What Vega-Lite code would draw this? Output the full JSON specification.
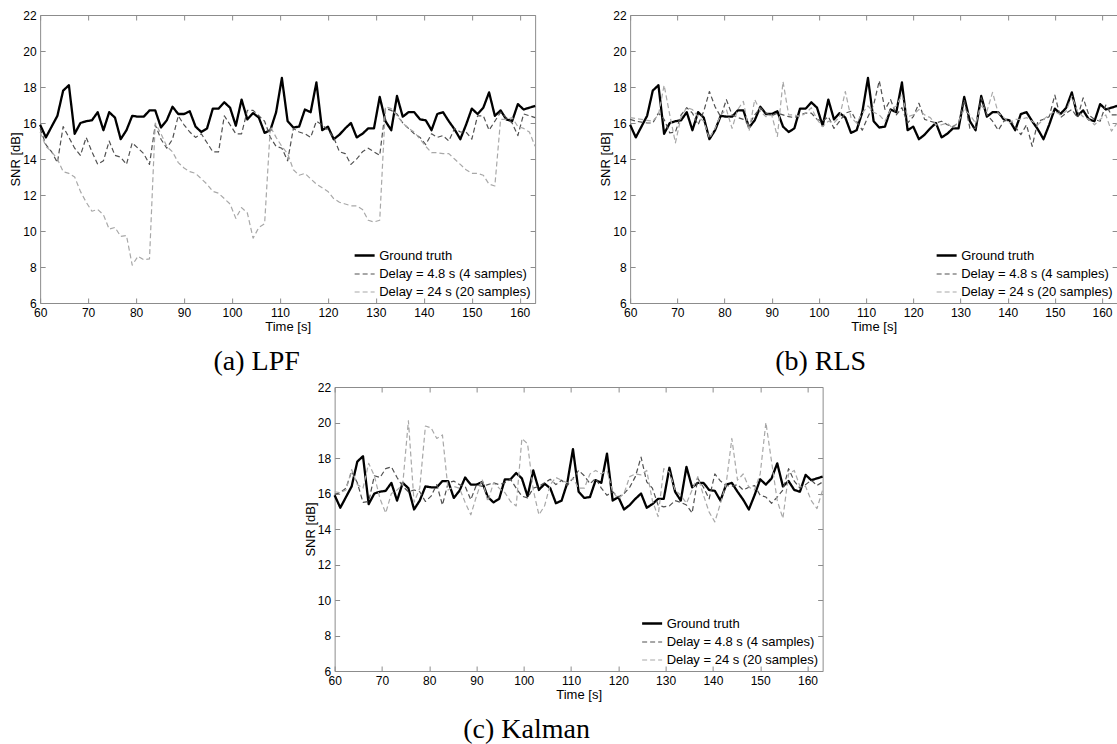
{
"$schema": "https://vega.github.io/schema/vega-lite/v6.json",
"background": "white",
"padding": {"left": 9, "top": 9, "right": 0, "bottom": 0},
"config": {
  "view": {"stroke": null},
  "axis": {"labelFont": "Liberation Sans", "labelFontSize": 12, "labelColor": "#000", "titleFont": "Liberation Sans", "titleFontSize": 13, "titleFontWeight": "normal", "titleColor": "#000", "domainColor": "#8c8c8c", "tickColor": "#8c8c8c", "tickSize": -5, "labelPadding": 9, "grid": false, "labelFlush": false, "labelOverlap": false},
  "axisX": {"titlePadding": 2},
  "axisY": {"titlePadding": 0},
  "legend": {"title": null, "orient": "bottom-right", "offset": 4, "padding": 0, "symbolSize": 400, "labelFont": "Liberation Sans", "labelFontSize": 13, "labelColor": "#000", "rowPadding": -3, "labelOffset": 3, "symbolType": "stroke"},
  "title": {"font": "Liberation Serif", "fontSize": 28, "fontWeight": "normal", "color": "#000", "orient": "bottom", "anchor": "middle", "frame": "group", "offset": 15},
  "line": {"strokeCap": "butt", "strokeJoin": "round"}
},
"data": {"values": [
{"s":"gt","t":60,"v":15.9},{"s":"gt","t":61.2,"v":15.2},{"s":"gt","t":62.4,"v":15.8},{"s":"gt","t":63.6,"v":16.4},{"s":"gt","t":64.8,"v":17.8},{"s":"gt","t":66,"v":18.1},{"s":"gt","t":67.2,"v":15.4},{"s":"gt","t":68.4,"v":16},{"s":"gt","t":69.6,"v":16.1},{"s":"gt","t":70.8,"v":16.15},
{"s":"gt","t":72,"v":16.6},{"s":"gt","t":73.2,"v":15.6},{"s":"gt","t":74.4,"v":16.6},{"s":"gt","t":75.6,"v":16.3},{"s":"gt","t":76.8,"v":15.1},{"s":"gt","t":78,"v":15.6},{"s":"gt","t":79.2,"v":16.4},{"s":"gt","t":80.4,"v":16.35},{"s":"gt","t":81.6,"v":16.35},{"s":"gt","t":82.8,"v":16.7},
{"s":"gt","t":84,"v":16.7},{"s":"gt","t":85.2,"v":15.75},{"s":"gt","t":86.4,"v":16.15},{"s":"gt","t":87.6,"v":16.9},{"s":"gt","t":88.8,"v":16.5},{"s":"gt","t":90,"v":16.5},{"s":"gt","t":91.2,"v":16.65},{"s":"gt","t":92.4,"v":15.8},{"s":"gt","t":93.6,"v":15.5},{"s":"gt","t":94.8,"v":15.7},
{"s":"gt","t":96,"v":16.8},{"s":"gt","t":97.2,"v":16.8},{"s":"gt","t":98.4,"v":17.15},{"s":"gt","t":99.6,"v":16.85},{"s":"gt","t":100.8,"v":15.85},{"s":"gt","t":102,"v":17.3},{"s":"gt","t":103.2,"v":16.2},{"s":"gt","t":104.4,"v":16.55},{"s":"gt","t":105.6,"v":16.3},{"s":"gt","t":106.8,"v":15.45},
{"s":"gt","t":108,"v":15.6},{"s":"gt","t":109.2,"v":16.6},{"s":"gt","t":110.4,"v":18.5},{"s":"gt","t":111.6,"v":16.1},{"s":"gt","t":112.8,"v":15.75},{"s":"gt","t":114,"v":15.8},{"s":"gt","t":115.2,"v":16.75},{"s":"gt","t":116.4,"v":16.6},{"s":"gt","t":117.6,"v":18.25},{"s":"gt","t":118.8,"v":15.6},
{"s":"gt","t":120,"v":15.8},{"s":"gt","t":121.2,"v":15.1},{"s":"gt","t":122.4,"v":15.35},{"s":"gt","t":123.6,"v":15.7},{"s":"gt","t":124.8,"v":16},{"s":"gt","t":126,"v":15.2},{"s":"gt","t":127.2,"v":15.4},{"s":"gt","t":128.4,"v":15.7},{"s":"gt","t":129.6,"v":15.7},{"s":"gt","t":130.8,"v":17.45},
{"s":"gt","t":132,"v":16.1},{"s":"gt","t":133.2,"v":15.6},{"s":"gt","t":134.4,"v":17.5},{"s":"gt","t":135.6,"v":16.35},{"s":"gt","t":136.8,"v":16.6},{"s":"gt","t":138,"v":16.6},{"s":"gt","t":139.2,"v":16.2},{"s":"gt","t":140.4,"v":16.15},{"s":"gt","t":141.6,"v":15.6},{"s":"gt","t":142.8,"v":16.5},
{"s":"gt","t":144,"v":16.6},{"s":"gt","t":145.2,"v":16.1},{"s":"gt","t":146.4,"v":15.65},{"s":"gt","t":147.6,"v":15.1},{"s":"gt","t":148.8,"v":15.9},{"s":"gt","t":150,"v":16.8},{"s":"gt","t":151.2,"v":16.5},{"s":"gt","t":152.4,"v":16.85},{"s":"gt","t":153.6,"v":17.7},{"s":"gt","t":154.8,"v":16.4},
{"s":"gt","t":156,"v":16.7},{"s":"gt","t":157.2,"v":16.2},{"s":"gt","t":158.4,"v":16.1},{"s":"gt","t":159.6,"v":17.05},{"s":"gt","t":160.8,"v":16.75},{"s":"gt","t":162,"v":16.85},{"s":"gt","t":163.2,"v":16.95},

{"s":"a4","t":60,"v":15.7},{"s":"a4","t":61.2,"v":14.8},{"s":"a4","t":62.4,"v":14.4},{"s":"a4","t":63.6,"v":13.8},{"s":"a4","t":64.8,"v":15.8},{"s":"a4","t":66,"v":15.2},{"s":"a4","t":67.2,"v":14.6},{"s":"a4","t":68.4,"v":14.2},{"s":"a4","t":69.6,"v":15.2},{"s":"a4","t":70.8,"v":14.4},
{"s":"a4","t":72,"v":13.7},{"s":"a4","t":73.2,"v":13.9},{"s":"a4","t":74.4,"v":15},{"s":"a4","t":75.6,"v":14.2},{"s":"a4","t":76.8,"v":14.1},{"s":"a4","t":78,"v":13.7},{"s":"a4","t":79.2,"v":14.9},{"s":"a4","t":80.4,"v":14.6},{"s":"a4","t":81.6,"v":14.3},{"s":"a4","t":82.8,"v":13.7},
{"s":"a4","t":84,"v":15.9},{"s":"a4","t":85.2,"v":15.1},{"s":"a4","t":86.4,"v":14.6},{"s":"a4","t":87.6,"v":15.1},{"s":"a4","t":88.8,"v":16.4},{"s":"a4","t":90,"v":15.9},{"s":"a4","t":91.2,"v":15.5},{"s":"a4","t":92.4,"v":15.2},{"s":"a4","t":93.6,"v":15.4},{"s":"a4","t":94.8,"v":14.9},
{"s":"a4","t":96,"v":14.4},{"s":"a4","t":97.2,"v":14.4},{"s":"a4","t":98.4,"v":16.4},{"s":"a4","t":99.6,"v":15.9},{"s":"a4","t":100.8,"v":15.4},{"s":"a4","t":102,"v":15.4},{"s":"a4","t":103.2,"v":16.7},{"s":"a4","t":104.4,"v":16.7},{"s":"a4","t":105.6,"v":16.4},{"s":"a4","t":106.8,"v":16.1},
{"s":"a4","t":108,"v":15.2},{"s":"a4","t":109.2,"v":14.7},{"s":"a4","t":110.4,"v":14.6},{"s":"a4","t":111.6,"v":13.9},{"s":"a4","t":112.8,"v":15.7},{"s":"a4","t":114,"v":15.5},{"s":"a4","t":115.2,"v":15.4},{"s":"a4","t":116.4,"v":15.2},{"s":"a4","t":117.6,"v":16.1},{"s":"a4","t":118.8,"v":15.9},
{"s":"a4","t":120,"v":15.6},{"s":"a4","t":121.2,"v":15.2},{"s":"a4","t":122.4,"v":14.4},{"s":"a4","t":123.6,"v":14.3},{"s":"a4","t":124.8,"v":13.7},{"s":"a4","t":126,"v":14},{"s":"a4","t":127.2,"v":14.4},{"s":"a4","t":128.4,"v":14.6},{"s":"a4","t":129.6,"v":14.4},{"s":"a4","t":130.8,"v":14.2},
{"s":"a4","t":132,"v":16.8},{"s":"a4","t":133.2,"v":16.7},{"s":"a4","t":134.4,"v":16.5},{"s":"a4","t":135.6,"v":16},{"s":"a4","t":136.8,"v":15.7},{"s":"a4","t":138,"v":15.4},{"s":"a4","t":139.2,"v":15.2},{"s":"a4","t":140.4,"v":14.8},{"s":"a4","t":141.6,"v":15.4},{"s":"a4","t":142.8,"v":15.2},
{"s":"a4","t":144,"v":15.3},{"s":"a4","t":145.2,"v":15},{"s":"a4","t":146.4,"v":15.7},{"s":"a4","t":147.6,"v":15.5},{"s":"a4","t":148.8,"v":15.5},{"s":"a4","t":150,"v":15.1},{"s":"a4","t":151.2,"v":16.4},{"s":"a4","t":152.4,"v":16.4},{"s":"a4","t":153.6,"v":15.6},{"s":"a4","t":154.8,"v":16.1},
{"s":"a4","t":156,"v":16.6},{"s":"a4","t":157.2,"v":16.3},{"s":"a4","t":158.4,"v":16},{"s":"a4","t":159.6,"v":15.3},{"s":"a4","t":160.8,"v":16.5},{"s":"a4","t":162,"v":16.4},{"s":"a4","t":163.2,"v":16.3},

{"s":"a24","t":60,"v":15.5},{"s":"a24","t":61.2,"v":14.7},{"s":"a24","t":62.4,"v":14.4},{"s":"a24","t":63.6,"v":14},{"s":"a24","t":64.8,"v":13.3},{"s":"a24","t":66,"v":13.2},{"s":"a24","t":67.2,"v":13},{"s":"a24","t":68.4,"v":12.2},{"s":"a24","t":69.6,"v":11.6},{"s":"a24","t":70.8,"v":11.1},
{"s":"a24","t":72,"v":11.2},{"s":"a24","t":73.2,"v":10.9},{"s":"a24","t":74.4,"v":10.1},{"s":"a24","t":75.6,"v":10.2},{"s":"a24","t":76.8,"v":9.7},{"s":"a24","t":78,"v":9.75},{"s":"a24","t":79.2,"v":8.1},{"s":"a24","t":80.4,"v":8.6},{"s":"a24","t":81.6,"v":8.4},{"s":"a24","t":82.8,"v":8.45},
{"s":"a24","t":84,"v":16},{"s":"a24","t":85.2,"v":15.4},{"s":"a24","t":86.4,"v":14.7},{"s":"a24","t":87.6,"v":14.4},{"s":"a24","t":88.8,"v":13.8},{"s":"a24","t":90,"v":13.5},{"s":"a24","t":91.2,"v":13.3},{"s":"a24","t":92.4,"v":13.2},{"s":"a24","t":93.6,"v":12.9},{"s":"a24","t":94.8,"v":12.6},
{"s":"a24","t":96,"v":12.2},{"s":"a24","t":97.2,"v":12.1},{"s":"a24","t":98.4,"v":11.8},{"s":"a24","t":99.6,"v":11.5},{"s":"a24","t":100.8,"v":10.7},{"s":"a24","t":102,"v":11.3},{"s":"a24","t":103.2,"v":11},{"s":"a24","t":104.4,"v":9.6},{"s":"a24","t":105.6,"v":10.2},{"s":"a24","t":106.8,"v":10.4},
{"s":"a24","t":108,"v":15.8},{"s":"a24","t":109.2,"v":15.2},{"s":"a24","t":110.4,"v":14.7},{"s":"a24","t":111.6,"v":14.3},{"s":"a24","t":112.8,"v":13.4},{"s":"a24","t":114,"v":13.1},{"s":"a24","t":115.2,"v":13.2},{"s":"a24","t":116.4,"v":12.9},{"s":"a24","t":117.6,"v":12.6},{"s":"a24","t":118.8,"v":12.4},
{"s":"a24","t":120,"v":12.2},{"s":"a24","t":121.2,"v":11.8},{"s":"a24","t":122.4,"v":11.6},{"s":"a24","t":123.6,"v":11.5},{"s":"a24","t":124.8,"v":11.4},{"s":"a24","t":126,"v":11.4},{"s":"a24","t":127.2,"v":11.2},{"s":"a24","t":128.4,"v":10.6},{"s":"a24","t":129.6,"v":10.5},{"s":"a24","t":130.8,"v":10.6},
{"s":"a24","t":132,"v":16.9},{"s":"a24","t":133.2,"v":16.8},{"s":"a24","t":134.4,"v":16.4},{"s":"a24","t":135.6,"v":16},{"s":"a24","t":136.8,"v":15.7},{"s":"a24","t":138,"v":15.5},{"s":"a24","t":139.2,"v":15.1},{"s":"a24","t":140.4,"v":14.7},{"s":"a24","t":141.6,"v":14.35},{"s":"a24","t":142.8,"v":14.35},
{"s":"a24","t":144,"v":14.3},{"s":"a24","t":145.2,"v":14.3},{"s":"a24","t":146.4,"v":14},{"s":"a24","t":147.6,"v":13.7},{"s":"a24","t":148.8,"v":13.4},{"s":"a24","t":150,"v":13.2},{"s":"a24","t":151.2,"v":13.2},{"s":"a24","t":152.4,"v":13.1},{"s":"a24","t":153.6,"v":12.6},{"s":"a24","t":154.8,"v":12.5},
{"s":"a24","t":156,"v":16.2},{"s":"a24","t":157.2,"v":16.2},{"s":"a24","t":158.4,"v":16.3},{"s":"a24","t":159.6,"v":15.8},{"s":"a24","t":160.8,"v":15.7},{"s":"a24","t":162,"v":15.5},{"s":"a24","t":163.2,"v":14.7},

{"s":"b4","t":60,"v":16.2},{"s":"b4","t":61.2,"v":16.1},{"s":"b4","t":62.4,"v":16.05},{"s":"b4","t":63.6,"v":16},{"s":"b4","t":64.8,"v":16},{"s":"b4","t":66,"v":16.55},{"s":"b4","t":67.2,"v":16.2},{"s":"b4","t":68.4,"v":15.45},{"s":"b4","t":69.6,"v":15.5},{"s":"b4","t":70.8,"v":16.45},
{"s":"b4","t":72,"v":16.85},{"s":"b4","t":73.2,"v":16.55},{"s":"b4","t":74.4,"v":15.9},{"s":"b4","t":75.6,"v":16.65},{"s":"b4","t":76.8,"v":17.75},{"s":"b4","t":78,"v":16.9},{"s":"b4","t":79.2,"v":16.35},{"s":"b4","t":80.4,"v":17.3},{"s":"b4","t":81.6,"v":16.45},{"s":"b4","t":82.8,"v":16.3},
{"s":"b4","t":84,"v":16.2},{"s":"b4","t":85.2,"v":15.9},{"s":"b4","t":86.4,"v":16.45},{"s":"b4","t":87.6,"v":16.85},{"s":"b4","t":88.8,"v":16.55},{"s":"b4","t":90,"v":16.4},{"s":"b4","t":91.2,"v":16.55},{"s":"b4","t":92.4,"v":16.45},{"s":"b4","t":93.6,"v":16.35},{"s":"b4","t":94.8,"v":16.3},
{"s":"b4","t":96,"v":16.45},{"s":"b4","t":97.2,"v":16.55},{"s":"b4","t":98.4,"v":16.55},{"s":"b4","t":99.6,"v":16.2},{"s":"b4","t":100.8,"v":16.1},{"s":"b4","t":102,"v":16.35},{"s":"b4","t":103.2,"v":15.7},{"s":"b4","t":104.4,"v":16.1},{"s":"b4","t":105.6,"v":16.55},{"s":"b4","t":106.8,"v":16.65},
{"s":"b4","t":108,"v":16.1},{"s":"b4","t":109.2,"v":15.6},{"s":"b4","t":110.4,"v":16.35},{"s":"b4","t":111.6,"v":17},{"s":"b4","t":112.8,"v":18.35},{"s":"b4","t":114,"v":16.75},{"s":"b4","t":115.2,"v":17.3},{"s":"b4","t":116.4,"v":16.45},{"s":"b4","t":117.6,"v":16.85},{"s":"b4","t":118.8,"v":16},
{"s":"b4","t":120,"v":16.35},{"s":"b4","t":121.2,"v":17.1},{"s":"b4","t":122.4,"v":16.2},{"s":"b4","t":123.6,"v":16.1},{"s":"b4","t":124.8,"v":16},{"s":"b4","t":126,"v":16.1},{"s":"b4","t":127.2,"v":15.9},{"s":"b4","t":128.4,"v":15.8},{"s":"b4","t":129.6,"v":16},{"s":"b4","t":130.8,"v":17.3},
{"s":"b4","t":132,"v":15.7},{"s":"b4","t":133.2,"v":15.7},{"s":"b4","t":134.4,"v":17.4},{"s":"b4","t":135.6,"v":16.45},{"s":"b4","t":136.8,"v":16.1},{"s":"b4","t":138,"v":15.6},{"s":"b4","t":139.2,"v":16.1},{"s":"b4","t":140.4,"v":16.2},{"s":"b4","t":141.6,"v":15.8},{"s":"b4","t":142.8,"v":15.35},
{"s":"b4","t":144,"v":15.9},{"s":"b4","t":145.2,"v":14.7},{"s":"b4","t":146.4,"v":16.1},{"s":"b4","t":147.6,"v":16.2},{"s":"b4","t":148.8,"v":16.35},{"s":"b4","t":150,"v":17.55},{"s":"b4","t":151.2,"v":16.3},{"s":"b4","t":152.4,"v":16.55},{"s":"b4","t":153.6,"v":16.75},{"s":"b4","t":154.8,"v":16.3},
{"s":"b4","t":156,"v":17.4},{"s":"b4","t":157.2,"v":16.45},{"s":"b4","t":158.4,"v":16.2},{"s":"b4","t":159.6,"v":16.1},{"s":"b4","t":160.8,"v":17},{"s":"b4","t":162,"v":16.45},{"s":"b4","t":163.2,"v":16.45},

{"s":"b24","t":60,"v":16.3},{"s":"b24","t":61.2,"v":16.25},{"s":"b24","t":62.4,"v":16.2},{"s":"b24","t":63.6,"v":16.15},{"s":"b24","t":64.8,"v":16.1},{"s":"b24","t":66,"v":16.45},{"s":"b24","t":67.2,"v":18.1},{"s":"b24","t":68.4,"v":16.45},{"s":"b24","t":69.6,"v":14.9},{"s":"b24","t":70.8,"v":16.35},
{"s":"b24","t":72,"v":16.85},{"s":"b24","t":73.2,"v":16.75},{"s":"b24","t":74.4,"v":16.35},{"s":"b24","t":75.6,"v":16.1},{"s":"b24","t":76.8,"v":15.15},{"s":"b24","t":78,"v":15.7},{"s":"b24","t":79.2,"v":16.45},{"s":"b24","t":80.4,"v":16.75},{"s":"b24","t":81.6,"v":15.7},{"s":"b24","t":82.8,"v":16.75},
{"s":"b24","t":84,"v":17.2},{"s":"b24","t":85.2,"v":15.55},{"s":"b24","t":86.4,"v":17.3},{"s":"b24","t":87.6,"v":16.65},{"s":"b24","t":88.8,"v":16.35},{"s":"b24","t":90,"v":16.45},{"s":"b24","t":91.2,"v":15.25},{"s":"b24","t":92.4,"v":18.3},{"s":"b24","t":93.6,"v":16.45},{"s":"b24","t":94.8,"v":16.45},
{"s":"b24","t":96,"v":16.35},{"s":"b24","t":97.2,"v":16.55},{"s":"b24","t":98.4,"v":16.85},{"s":"b24","t":99.6,"v":16.2},{"s":"b24","t":100.8,"v":15.8},{"s":"b24","t":102,"v":16.1},{"s":"b24","t":103.2,"v":16},{"s":"b24","t":104.4,"v":16.35},{"s":"b24","t":105.6,"v":17.75},{"s":"b24","t":106.8,"v":16.3},
{"s":"b24","t":108,"v":16},{"s":"b24","t":109.2,"v":16.55},{"s":"b24","t":110.4,"v":16.95},{"s":"b24","t":111.6,"v":16.6},{"s":"b24","t":112.8,"v":16.45},{"s":"b24","t":114,"v":16.1},{"s":"b24","t":115.2,"v":16.75},{"s":"b24","t":116.4,"v":16.95},{"s":"b24","t":117.6,"v":17.55},{"s":"b24","t":118.8,"v":16.35},
{"s":"b24","t":120,"v":16.45},{"s":"b24","t":121.2,"v":16.75},{"s":"b24","t":122.4,"v":16.45},{"s":"b24","t":123.6,"v":16.3},{"s":"b24","t":124.8,"v":15.9},{"s":"b24","t":126,"v":15.9},{"s":"b24","t":127.2,"v":16},{"s":"b24","t":128.4,"v":15.7},{"s":"b24","t":129.6,"v":16.1},{"s":"b24","t":130.8,"v":16.75},
{"s":"b24","t":132,"v":16.45},{"s":"b24","t":133.2,"v":16},{"s":"b24","t":134.4,"v":16.95},{"s":"b24","t":135.6,"v":16.65},{"s":"b24","t":136.8,"v":17.7},{"s":"b24","t":138,"v":16.55},{"s":"b24","t":139.2,"v":16.3},{"s":"b24","t":140.4,"v":16},{"s":"b24","t":141.6,"v":16.2},{"s":"b24","t":142.8,"v":16.2},
{"s":"b24","t":144,"v":16.3},{"s":"b24","t":145.2,"v":16.1},{"s":"b24","t":146.4,"v":15.9},{"s":"b24","t":147.6,"v":16.2},{"s":"b24","t":148.8,"v":16.45},{"s":"b24","t":150,"v":16.65},{"s":"b24","t":151.2,"v":16.45},{"s":"b24","t":152.4,"v":16.65},{"s":"b24","t":153.6,"v":17.5},{"s":"b24","t":154.8,"v":16.65},
{"s":"b24","t":156,"v":16.35},{"s":"b24","t":157.2,"v":16.2},{"s":"b24","t":158.4,"v":15.9},{"s":"b24","t":159.6,"v":16.2},{"s":"b24","t":160.8,"v":16.45},{"s":"b24","t":162,"v":15.55},{"s":"b24","t":163.2,"v":16},

{"s":"c4","t":60,"v":15.95},{"s":"c4","t":61.2,"v":16.05},{"s":"c4","t":62.4,"v":16.3},{"s":"c4","t":63.6,"v":17.25},{"s":"c4","t":64.8,"v":16.6},{"s":"c4","t":66,"v":15.5},{"s":"c4","t":67.2,"v":15.55},{"s":"c4","t":68.4,"v":17},{"s":"c4","t":69.6,"v":16.9},{"s":"c4","t":70.8,"v":17.4},
{"s":"c4","t":72,"v":17.5},{"s":"c4","t":73.2,"v":16.9},{"s":"c4","t":74.4,"v":16.4},{"s":"c4","t":75.6,"v":16.1},{"s":"c4","t":76.8,"v":16.2},{"s":"c4","t":78,"v":16.1},{"s":"c4","t":79.2,"v":15.55},{"s":"c4","t":80.4,"v":15.85},{"s":"c4","t":81.6,"v":16.5},{"s":"c4","t":82.8,"v":15.35},
{"s":"c4","t":84,"v":16.6},{"s":"c4","t":85.2,"v":16.7},{"s":"c4","t":86.4,"v":16.5},{"s":"c4","t":87.6,"v":16.4},{"s":"c4","t":88.8,"v":15.65},{"s":"c4","t":90,"v":16.5},{"s":"c4","t":91.2,"v":16.4},{"s":"c4","t":92.4,"v":16.5},{"s":"c4","t":93.6,"v":16.6},{"s":"c4","t":94.8,"v":16.5},
{"s":"c4","t":96,"v":16.6},{"s":"c4","t":97.2,"v":16.8},{"s":"c4","t":98.4,"v":16.3},{"s":"c4","t":99.6,"v":15.85},{"s":"c4","t":100.8,"v":15.75},{"s":"c4","t":102,"v":16.3},{"s":"c4","t":103.2,"v":16.4},{"s":"c4","t":104.4,"v":16.6},{"s":"c4","t":105.6,"v":16.8},{"s":"c4","t":106.8,"v":16.5},
{"s":"c4","t":108,"v":16.75},{"s":"c4","t":109.2,"v":16.45},{"s":"c4","t":110.4,"v":16.85},{"s":"c4","t":111.6,"v":17.3},{"s":"c4","t":112.8,"v":17},{"s":"c4","t":114,"v":16.55},{"s":"c4","t":115.2,"v":16.85},{"s":"c4","t":116.4,"v":16.3},{"s":"c4","t":117.6,"v":15.9},{"s":"c4","t":118.8,"v":16.1},
{"s":"c4","t":120,"v":15.8},{"s":"c4","t":121.2,"v":16},{"s":"c4","t":122.4,"v":16.35},{"s":"c4","t":123.6,"v":16.95},{"s":"c4","t":124.8,"v":18.05},{"s":"c4","t":126,"v":16.65},{"s":"c4","t":127.2,"v":16.3},{"s":"c4","t":128.4,"v":15.35},{"s":"c4","t":129.6,"v":15.25},{"s":"c4","t":130.8,"v":15.3},
{"s":"c4","t":132,"v":15.6},{"s":"c4","t":133.2,"v":15.5},{"s":"c4","t":134.4,"v":15.35},{"s":"c4","t":135.6,"v":14.9},{"s":"c4","t":136.8,"v":16.85},{"s":"c4","t":138,"v":16.35},{"s":"c4","t":139.2,"v":15.7},{"s":"c4","t":140.4,"v":17.1},{"s":"c4","t":141.6,"v":16.7},{"s":"c4","t":142.8,"v":16.45},
{"s":"c4","t":144,"v":16.4},{"s":"c4","t":145.2,"v":16.5},{"s":"c4","t":146.4,"v":16.2},{"s":"c4","t":147.6,"v":16.35},{"s":"c4","t":148.8,"v":16.45},{"s":"c4","t":150,"v":15.9},{"s":"c4","t":151.2,"v":15.8},{"s":"c4","t":152.4,"v":15.45},{"s":"c4","t":153.6,"v":15.8},{"s":"c4","t":154.8,"v":16.2},
{"s":"c4","t":156,"v":17.4},{"s":"c4","t":157.2,"v":16.7},{"s":"c4","t":158.4,"v":16.3},{"s":"c4","t":159.6,"v":16.5},{"s":"c4","t":160.8,"v":16.75},{"s":"c4","t":162,"v":16.45},{"s":"c4","t":163.2,"v":16.65},

{"s":"c24","t":60,"v":16.1},{"s":"c24","t":61.2,"v":16.05},{"s":"c24","t":62.4,"v":16.2},{"s":"c24","t":63.6,"v":17.35},{"s":"c24","t":64.8,"v":16.5},{"s":"c24","t":66,"v":16.3},{"s":"c24","t":67.2,"v":17.7},{"s":"c24","t":68.4,"v":17},{"s":"c24","t":69.6,"v":15.7},{"s":"c24","t":70.8,"v":14.9},
{"s":"c24","t":72,"v":16},{"s":"c24","t":73.2,"v":16.2},{"s":"c24","t":74.4,"v":16.5},{"s":"c24","t":75.6,"v":20.1},{"s":"c24","t":76.8,"v":15.5},{"s":"c24","t":78,"v":16.3},{"s":"c24","t":79.2,"v":19.8},{"s":"c24","t":80.4,"v":19.7},{"s":"c24","t":81.6,"v":19.1},{"s":"c24","t":82.8,"v":19.3},
{"s":"c24","t":84,"v":16.2},{"s":"c24","t":85.2,"v":16.4},{"s":"c24","t":86.4,"v":16.3},{"s":"c24","t":87.6,"v":15.5},{"s":"c24","t":88.8,"v":14.8},{"s":"c24","t":90,"v":15.85},{"s":"c24","t":91.2,"v":16.8},{"s":"c24","t":92.4,"v":15.55},{"s":"c24","t":93.6,"v":16.6},{"s":"c24","t":94.8,"v":16.3},
{"s":"c24","t":96,"v":16.05},{"s":"c24","t":97.2,"v":15.55},{"s":"c24","t":98.4,"v":15.3},{"s":"c24","t":99.6,"v":19.1},{"s":"c24","t":100.8,"v":18.8},{"s":"c24","t":102,"v":16.2},{"s":"c24","t":103.2,"v":14.8},{"s":"c24","t":104.4,"v":15.3},{"s":"c24","t":105.6,"v":16.5},{"s":"c24","t":106.8,"v":16.9},
{"s":"c24","t":108,"v":16.75},{"s":"c24","t":109.2,"v":16.6},{"s":"c24","t":110.4,"v":16.85},{"s":"c24","t":111.6,"v":16.3},{"s":"c24","t":112.8,"v":16.3},{"s":"c24","t":114,"v":17.1},{"s":"c24","t":115.2,"v":17.3},{"s":"c24","t":116.4,"v":17.1},{"s":"c24","t":117.6,"v":17.3},{"s":"c24","t":118.8,"v":16.1},
{"s":"c24","t":120,"v":15.7},{"s":"c24","t":121.2,"v":16},{"s":"c24","t":122.4,"v":16.95},{"s":"c24","t":123.6,"v":17.1},{"s":"c24","t":124.8,"v":17.05},{"s":"c24","t":126,"v":17.3},{"s":"c24","t":127.2,"v":15.6},{"s":"c24","t":128.4,"v":14.7},{"s":"c24","t":129.6,"v":17.4},{"s":"c24","t":130.8,"v":17.2},
{"s":"c24","t":132,"v":16.2},{"s":"c24","t":133.2,"v":15.9},{"s":"c24","t":134.4,"v":15.45},{"s":"c24","t":135.6,"v":16.2},{"s":"c24","t":136.8,"v":16.95},{"s":"c24","t":138,"v":15.9},{"s":"c24","t":139.2,"v":14.95},{"s":"c24","t":140.4,"v":14.4},{"s":"c24","t":141.6,"v":15.45},{"s":"c24","t":142.8,"v":16.55},
{"s":"c24","t":144,"v":19.1},{"s":"c24","t":145.2,"v":16.75},{"s":"c24","t":146.4,"v":17.1},{"s":"c24","t":147.6,"v":16.35},{"s":"c24","t":148.8,"v":16.2},{"s":"c24","t":150,"v":17.1},{"s":"c24","t":151.2,"v":20},{"s":"c24","t":152.4,"v":17.8},{"s":"c24","t":153.6,"v":15.6},{"s":"c24","t":154.8,"v":14.6},
{"s":"c24","t":156,"v":17.1},{"s":"c24","t":157.2,"v":17.3},{"s":"c24","t":158.4,"v":16.4},{"s":"c24","t":159.6,"v":16.4},{"s":"c24","t":160.8,"v":15.6},{"s":"c24","t":162,"v":15.15},{"s":"c24","t":163.2,"v":16.2}
]},
"spacing": 5,
"center": true,
"resolve": {"scale": {"color": "independent", "strokeDash": "independent", "strokeWidth": "independent"}, "legend": {"color": "independent", "strokeDash": "independent", "strokeWidth": "independent"}},
"vconcat": [
 {
  "spacing": 61,
  "resolve": {"scale": {"color": "independent", "strokeDash": "independent", "strokeWidth": "independent"}, "legend": {"color": "independent", "strokeDash": "independent", "strokeWidth": "independent"}},
  "hconcat": [
   {
    "width": 495, "height": 288,
    "title": {"text": "(a) LPF", "dx": -31},
    "transform": [{"filter": "datum.s == 'gt' || datum.s == 'a4' || datum.s == 'a24'"}],
    "layer": [
     {"mark": {"type": "line"},
      "encoding": {
       "x": {"field": "t", "type": "quantitative", "scale": {"domain": [60, 163.2], "nice": false, "zero": false}, "axis": {"orient": "bottom", "title": "Time [s]", "values": [60,70,80,90,100,110,120,130,140,150,160]}},
       "y": {"field": "v", "type": "quantitative", "scale": {"domain": [6, 22], "nice": false, "zero": false}, "axis": {"orient": "left", "title": "SNR [dB]", "values": [6,8,10,12,14,16,18,20,22]}},
       "color": {"field": "s", "type": "nominal", "scale": {"domain": ["gt","a4","a24"], "range": ["#000000","#505050","#a8a8a8"]}, "legend": {"labelExpr": "datum.label == 'gt' ? 'Ground truth' : datum.label == 'a4' ? 'Delay = 4.8 s (4 samples)' : 'Delay = 24 s (20 samples)'"}},
       "strokeDash": {"field": "s", "type": "nominal", "scale": {"domain": ["gt","a4","a24"], "range": [[1,0],[5,3],[5,3]]}, "legend": {"labelExpr": "datum.label == 'gt' ? 'Ground truth' : datum.label == 'a4' ? 'Delay = 4.8 s (4 samples)' : 'Delay = 24 s (20 samples)'"}},
       "strokeWidth": {"field": "s", "type": "nominal", "scale": {"type": "ordinal", "domain": ["gt","a4","a24"], "range": [2.3,1.2,1.2]}, "legend": {"labelExpr": "datum.label == 'gt' ? 'Ground truth' : datum.label == 'a4' ? 'Delay = 4.8 s (4 samples)' : 'Delay = 24 s (20 samples)'"}}
      }},
     {"mark": {"type": "point", "opacity": 0},
      "encoding": {
       "x": {"field": "t", "type": "quantitative", "scale": {"domain": [60, 163.2], "nice": false, "zero": false}, "axis": {"orient": "top", "labels": false, "title": null, "values": [60,70,80,90,100,110,120,130,140,150,160]}},
       "y": {"field": "v", "type": "quantitative", "scale": {"domain": [6, 22], "nice": false, "zero": false}, "axis": {"orient": "right", "labels": false, "title": null, "values": [6,8,10,12,14,16,18,20,22]}}
      }}
    ],
    "resolve": {"axis": {"x": "independent", "y": "independent"}}
   },
   {
    "width": 487, "height": 288,
    "title": {"text": "(b) RLS", "dx": -53},
    "transform": [{"filter": "datum.s == 'gt' || datum.s == 'b4' || datum.s == 'b24'"}],
    "layer": [
     {"mark": {"type": "line"},
      "encoding": {
       "x": {"field": "t", "type": "quantitative", "scale": {"domain": [60, 163.2], "nice": false, "zero": false}, "axis": {"orient": "bottom", "title": "Time [s]", "values": [60,70,80,90,100,110,120,130,140,150,160]}},
       "y": {"field": "v", "type": "quantitative", "scale": {"domain": [6, 22], "nice": false, "zero": false}, "axis": {"orient": "left", "title": "SNR [dB]", "values": [6,8,10,12,14,16,18,20,22]}},
       "color": {"field": "s", "type": "nominal", "scale": {"domain": ["gt","b4","b24"], "range": ["#000000","#505050","#a8a8a8"]}, "legend": {"labelExpr": "datum.label == 'gt' ? 'Ground truth' : datum.label == 'b4' ? 'Delay = 4.8 s (4 samples)' : 'Delay = 24 s (20 samples)'"}},
       "strokeDash": {"field": "s", "type": "nominal", "scale": {"domain": ["gt","b4","b24"], "range": [[1,0],[5,3],[5,3]]}, "legend": {"labelExpr": "datum.label == 'gt' ? 'Ground truth' : datum.label == 'b4' ? 'Delay = 4.8 s (4 samples)' : 'Delay = 24 s (20 samples)'"}},
       "strokeWidth": {"field": "s", "type": "nominal", "scale": {"type": "ordinal", "domain": ["gt","b4","b24"], "range": [2.3,1.2,1.2]}, "legend": {"labelExpr": "datum.label == 'gt' ? 'Ground truth' : datum.label == 'b4' ? 'Delay = 4.8 s (4 samples)' : 'Delay = 24 s (20 samples)'"}}
      }},
     {"mark": {"type": "point", "opacity": 0},
      "encoding": {
       "x": {"field": "t", "type": "quantitative", "scale": {"domain": [60, 163.2], "nice": false, "zero": false}, "axis": {"orient": "top", "labels": false, "title": null, "values": [60,70,80,90,100,110,120,130,140,150,160]}},
       "y": {"field": "v", "type": "quantitative", "scale": {"domain": [6, 22], "nice": false, "zero": false}, "axis": {"orient": "right", "labels": false, "title": null, "values": [6,8,10,12,14,16,18,20,22]}}
      }}
    ],
    "resolve": {"axis": {"x": "independent", "y": "independent"}}
   }
  ]
 },
 {
  "width": 488, "height": 284,
  "title": {"text": "(c) Kalman", "dx": -52},
  "transform": [{"filter": "datum.s == 'gt' || datum.s == 'c4' || datum.s == 'c24'"}],
  "layer": [
   {"mark": {"type": "line"},
    "encoding": {
     "x": {"field": "t", "type": "quantitative", "scale": {"domain": [60, 163.2], "nice": false, "zero": false}, "axis": {"orient": "bottom", "title": "Time [s]", "values": [60,70,80,90,100,110,120,130,140,150,160]}},
     "y": {"field": "v", "type": "quantitative", "scale": {"domain": [6, 22], "nice": false, "zero": false}, "axis": {"orient": "left", "title": "SNR [dB]", "values": [6,8,10,12,14,16,18,20,22]}},
     "color": {"field": "s", "type": "nominal", "scale": {"domain": ["gt","c4","c24"], "range": ["#000000","#505050","#a8a8a8"]}, "legend": {"labelExpr": "datum.label == 'gt' ? 'Ground truth' : datum.label == 'c4' ? 'Delay = 4.8 s (4 samples)' : 'Delay = 24 s (20 samples)'"}},
     "strokeDash": {"field": "s", "type": "nominal", "scale": {"domain": ["gt","c4","c24"], "range": [[1,0],[5,3],[5,3]]}, "legend": {"labelExpr": "datum.label == 'gt' ? 'Ground truth' : datum.label == 'c4' ? 'Delay = 4.8 s (4 samples)' : 'Delay = 24 s (20 samples)'"}},
     "strokeWidth": {"field": "s", "type": "nominal", "scale": {"type": "ordinal", "domain": ["gt","c4","c24"], "range": [2.3,1.2,1.2]}, "legend": {"labelExpr": "datum.label == 'gt' ? 'Ground truth' : datum.label == 'c4' ? 'Delay = 4.8 s (4 samples)' : 'Delay = 24 s (20 samples)'"}}
    }},
   {"mark": {"type": "point", "opacity": 0},
    "encoding": {
     "x": {"field": "t", "type": "quantitative", "scale": {"domain": [60, 163.2], "nice": false, "zero": false}, "axis": {"orient": "top", "labels": false, "title": null, "values": [60,70,80,90,100,110,120,130,140,150,160]}},
     "y": {"field": "v", "type": "quantitative", "scale": {"domain": [6, 22], "nice": false, "zero": false}, "axis": {"orient": "right", "labels": false, "title": null, "values": [6,8,10,12,14,16,18,20,22]}}
    }}
  ],
  "resolve": {"axis": {"x": "independent", "y": "independent"}}
 }
]
}
